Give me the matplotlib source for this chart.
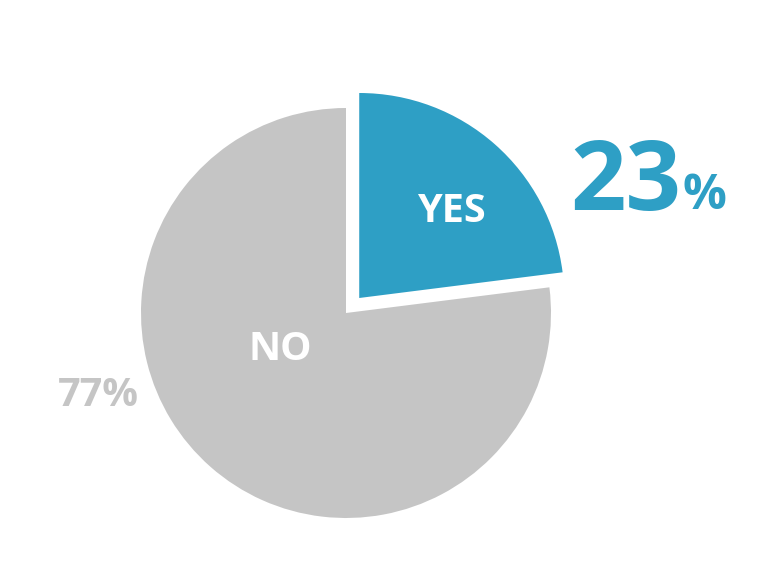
import matplotlib.pyplot as plt

labels = ['YES', 'NO']
values = [23, 77]
colors = ['#2E9FC5', '#C5C5C5']

plt.rcParams['font.family'] = ['Open Sans', 'DejaVu Sans']

fig = plt.figure(figsize=(7.8, 5.88), dpi=100)
ax = fig.add_axes([0, 0, 1, 1])

# pie drawn in pixel-like coords, center (346, 313 from top); explode is in data units
ax.pie(values, colors=colors, explode=[20, 0], startangle=90, counterclock=False,
       center=(346, 588 - 313), radius=205, frame=True)
ax.set_xlim(0, 780)
ax.set_ylim(0, 588)
ax.set_aspect('equal')
ax.axis('off')

ax.text(451, 588 - 212, labels[0], color='white', fontsize=28.5, fontweight='bold',
        ha='center', va='center')
ax.text(280, 588 - 349, labels[1], color='white', fontsize=28.5, fontweight='bold',
        ha='center', va='center')

ax.text(570, 588 - 210, str(values[0]), color=colors[0], fontsize=70, fontweight='bold',
        ha='left', va='baseline')
ax.text(683, 588 - 209, '%', color=colors[0], fontsize=35, fontweight='bold',
        ha='left', va='baseline')
ax.text(98, 588 - 395, f'{values[1]}%', color=colors[1], fontsize=28.5, fontweight='bold',
        ha='center', va='center')

fig.savefig('out.png', dpi=100)
